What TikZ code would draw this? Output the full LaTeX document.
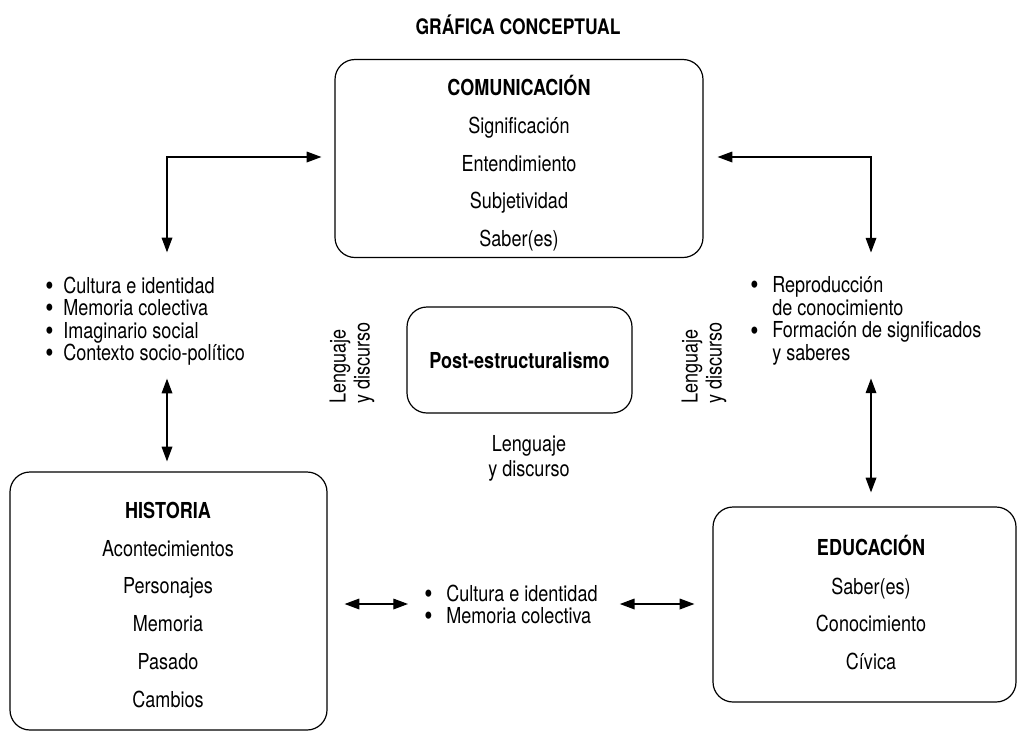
\documentclass[tikz,border=0pt]{standalone}
\usepackage{fontspec}
\setmainfont{TeX Gyre Heros}[FakeStretch=0.82]
\usetikzlibrary{arrows.meta,positioning}
\newcommand{\punto}[1]{\makebox[#1][l]{\raisebox{-1.6pt}[0pt][0pt]{\scalebox{1.3}{•}}}}

\begin{document}
\begin{tikzpicture}[x=0.75pt,y=-0.75pt,
  every node/.style={font=\fontsize{16.5pt}{18pt}\selectfont},
  caja/.style={draw,line width=0.9pt,rounded corners=15pt,inner sep=0pt},
  item/.style={text height=1.5ex,text depth=.25ex},
  cabeza/.style={item,font=\fontsize{16.5pt}{18pt}\selectfont\bfseries},
  lista/.style={align=left,inner sep=0pt,anchor=west,font=\fontsize{16.5pt}{16.9pt}\selectfont},
  flecha/.style={line width=0.9pt,{Triangle[length=11pt,width=8pt]}-{Triangle[length=11pt,width=8pt]}}]
\useasboundingbox (0,0) rectangle (1017,732);

\node[font=\fontsize{16pt}{18pt}\selectfont\bfseries] (graf) at (518,25) {GRÁFICA CONCEPTUAL};

% cajas
\node[caja,minimum width=276pt,minimum height=148.5pt] (com) at (519,158.5) {};
\node[cabeza] (com-0) at (519,91) {COMUNICACIÓN};
\foreach \t [count=\i] in {Significación,Entendimiento,Subjetividad,Saber(es)}
  \node[item] (com-\i) at (519,92+37.5*\i) {\t};

\node[caja,minimum width=237.75pt,minimum height=193.5pt] (hist) at (168.5,601) {};
\node[cabeza] (hist-0) at (168,514) {HISTORIA};
\foreach \t [count=\i] in {Acontecimientos,Personajes,Memoria,Pasado,Cambios}
  \node[item] (hist-\i) at (168,514+37.8*\i) {\t};

\node[caja,minimum width=227.25pt,minimum height=146.25pt] (edu) at (864.5,604.5) {};
\node[cabeza] (edu-0) at (871,551) {EDUCACIÓN};
\foreach \t [count=\i] in {Saber(es),Conocimiento,Cívica}
  \node[item] (edu-\i) at (871,552+37.7*\i) {\t};

\node[caja,minimum width=168.75pt,minimum height=79.5pt,
  font=\fontsize{16.5pt}{18pt}\selectfont\bfseries] (post) at (519.5,360) {Post-estructuralismo};

% listas
\node[lista] (listaI) at (45,321) {\punto{13.5pt}Cultura e identidad\\
  \punto{13.5pt}Memoria colectiva\\
  \punto{13.5pt}Imaginario social\\
  \punto{13.5pt}Contexto socio-político};
\node[lista] (listaD) at (750,321) {\punto{16.5pt}Reproducción\\
  \hspace*{16.5pt}de conocimiento\\
  \punto{16.5pt}Formación de significados\\
  \hspace*{16.5pt}y saberes};
\node[lista,font=\fontsize{16.5pt}{16.5pt}\selectfont] (listaB) at (424,604) {\punto{16.5pt}Cultura e identidad\\
  \punto{16.5pt}Memoria colectiva};

% lenguaje y discurso
\node[rotate=90,align=left] (lenI) at (352,363) {Lenguaje\\y discurso};
\node[rotate=90,align=left] (lenD) at (704,363) {Lenguaje\\y discurso};
\node[align=center,font=\fontsize{16.5pt}{18.75pt}\selectfont] (lenB) at (529,458) {Lenguaje\\y discurso};

% conectores
\coordinate (codoI) at (167,157);
\coordinate (codoD) at (871,157);
\draw[flecha,shorten <=18pt,shorten >=9.75pt] (codoI |- listaI.north) -- (codoI) -- (codoI -| com.west);
\draw[flecha,shorten <=18pt,shorten >=10.5pt] (codoD |- listaD.north) -- (codoD) -- (codoD -| com.east);
\draw[flecha,shorten <=9.75pt,shorten >=7.5pt] (listaI.south -| codoI) -- (hist.north -| codoI);
\draw[flecha,shorten <=9.75pt,shorten >=10.5pt] (listaD.south -| codoD) -- (edu.north -| codoD);
\draw[flecha,shorten <=12.75pt,shorten >=12pt] (listaB.west -| hist.east) -- (listaB.west);
\draw[flecha,shorten <=16.5pt,shorten >=13.5pt] (listaB.east) -- (listaB.east -| edu.west);
\end{tikzpicture}
\end{document}
